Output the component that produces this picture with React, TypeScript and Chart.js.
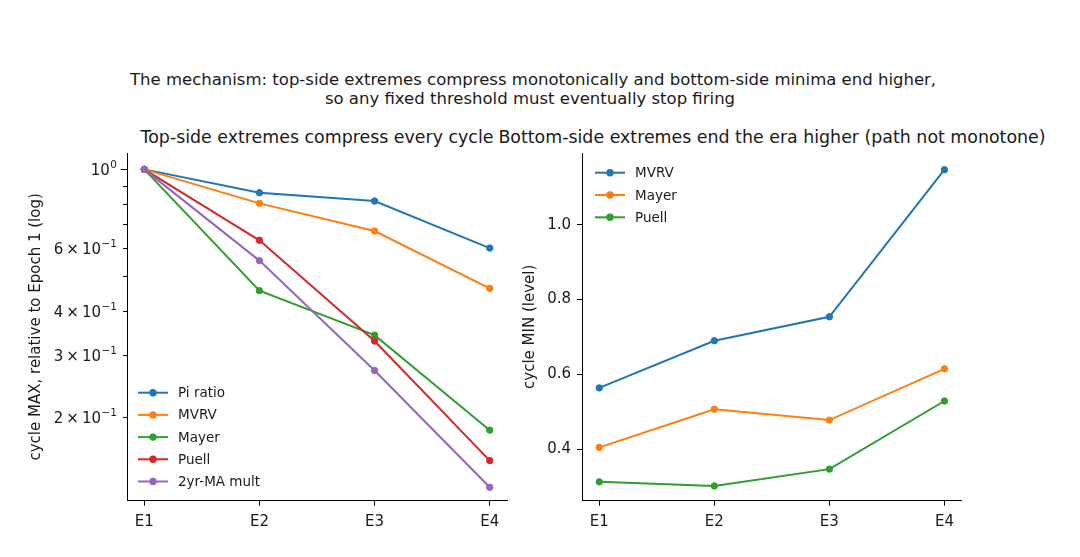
import { useEffect, useRef } from "react";
import { Chart, registerables, type ChartOptions, type Plugin } from "chart.js";

Chart.register(...registerables);

// epochs on the x axis
const epochs = ["E1", "E2", "E3", "E4"];

// left panel: cycle MAX relative to epoch 1 (log)
const piRatioMax = [1.0, 0.859, 0.814, 0.6];
const mvrvMax = [1.0, 0.802, 0.67, 0.462];
const mayerMax = [1.0, 0.455, 0.341, 0.184];
const puellMax = [1.0, 0.631, 0.328, 0.151];
const twoYrMaMax = [1.0, 0.553, 0.271, 0.127];

// right panel: cycle MIN level
const mvrvMin = [0.564, 0.69, 0.754, 1.147];
const mayerMin = [0.405, 0.507, 0.478, 0.615];
const puellMin = [0.313, 0.302, 0.347, 0.529];

// tick values / labels (log axis: mantissa + exponent, mathtext style)
const logTicks = [0.2, 0.3, 0.4, 0.5, 0.6, 0.7, 0.8, 0.9, 1.0];
const logMajor = [1.0];
const logTickLabels: Record<string, [string, string]> = {
  "1": ["10", "0"],
  "0.6": ["6\u2009\u00d7\u200910", "\u22121"],
  "0.4": ["4\u2009\u00d7\u200910", "\u22121"],
  "0.3": ["3\u2009\u00d7\u200910", "\u22121"],
  "0.2": ["2\u2009\u00d7\u200910", "\u22121"],
};
const levelTicks = [0.4, 0.6, 0.8, 1.0];

const BLUE = "#1f77b4";
const ORANGE = "#ff7f0e";
const GREEN = "#2ca02c";
const RED = "#d62728";
const PURPLE = "#9467bd";
const FONT = "'DejaVu Sans', sans-serif";
const INK = "#1a1a1a";
const AXIS_FS = 15;

type Series = { label: string; values: number[]; color: string };

const leftSeries: Series[] = [
  { label: "Pi ratio", values: piRatioMax, color: BLUE },
  { label: "MVRV", values: mvrvMax, color: ORANGE },
  { label: "Mayer", values: mayerMax, color: GREEN },
  { label: "Puell", values: puellMax, color: RED },
  { label: "2yr-MA mult", values: twoYrMaMax, color: PURPLE },
];

const rightSeries: Series[] = [
  { label: "MVRV", values: mvrvMin, color: BLUE },
  { label: "Mayer", values: mayerMin, color: ORANGE },
  { label: "Puell", values: puellMin, color: GREEN },
];

// matplotlib-ish legend drawn inside the plot area, no frame
const innerLegend: Plugin<"line"> = {
  id: "innerLegend",
  afterDatasetsDraw(chart, _args, opts: any) {
    const { ctx } = chart;
    ctx.save();
    ctx.font = `13.5px ${FONT}`;
    ctx.textBaseline = "middle";
    chart.data.datasets.forEach((ds: any, i) => {
      const y = opts.y + i * opts.gap;
      ctx.strokeStyle = ds.borderColor;
      ctx.lineWidth = 2;
      ctx.beginPath();
      ctx.moveTo(opts.x, y);
      ctx.lineTo(opts.x + 30, y);
      ctx.stroke();
      ctx.fillStyle = ds.borderColor;
      ctx.beginPath();
      ctx.arc(opts.x + 15, y, 3.7, 0, Math.PI * 2);
      ctx.fill();
      ctx.fillStyle = INK;
      ctx.fillText(ds.label, opts.x + 40, y + 1);
    });
    ctx.restore();
  },
};

// log-axis ticks: long major / short minor marks, and 6 × 10^-1 labels
const logAxisTicks: Plugin<"line"> = {
  id: "logAxisTicks",
  afterDraw(chart, _args, opts: any) {
    if (!opts || !opts.enabled) return;
    const { ctx } = chart;
    const ys = chart.scales.y;
    const x0 = ys.right;
    ctx.save();
    ctx.strokeStyle = "#000";
    ctx.lineWidth = 1;
    logTicks.forEach((v) => {
      const py = Math.round(ys.getPixelForValue(v)) + 0.5;
      const len = logMajor.includes(v) ? 6.5 : 4;
      ctx.beginPath();
      ctx.moveTo(x0 - len, py);
      ctx.lineTo(x0, py);
      ctx.stroke();
      const lab = logTickLabels[String(v)];
      if (!lab) return;
      const [base, exp] = lab;
      ctx.font = `10.5px ${FONT}`;
      const ew = ctx.measureText(exp).width;
      const right = x0 - 10;
      ctx.fillStyle = INK;
      ctx.textBaseline = "alphabetic";
      ctx.textAlign = "left";
      ctx.fillText(exp, right - ew, py - 1.2);
      ctx.font = `${AXIS_FS}px ${FONT}`;
      ctx.textAlign = "right";
      ctx.fillText(base, right - ew - 0.5, py + 5.5);
    });
    ctx.restore();
  },
};

function buildDatasets(series: Series[]) {
  return series.map((s, i) => ({
    label: s.label,
    data: s.values.map((v, k) => ({ x: k, y: v })),
    borderColor: s.color,
    backgroundColor: s.color,
    pointBackgroundColor: s.color,
    pointBorderColor: s.color,
    pointBorderWidth: 1,
    pointRadius: 3.2,
    borderWidth: 2,
    tension: 0,
    order: series.length - 1 - i,
  }));
}

function makeOptions(cfg: {
  yType: "linear" | "logarithmic";
  yMin: number;
  yMax: number;
  yTicks: number[];
  yLabel: (v: number) => string;
  yTitle: string;
  yWidth: number;
  yTitlePad: number;
  padRight: number;
  customLog: boolean;
  legend: { x: number; y: number; gap: number };
}): ChartOptions<"line"> {
  return {
    responsive: false,
    animation: false,
    layout: { padding: { top: 153, right: cfg.padRight, left: 0, bottom: 0 } },
    plugins: {
      legend: { display: false },
      tooltip: { enabled: false },
      innerLegend: cfg.legend,
      logAxisTicks: { enabled: cfg.customLog },
    } as any,
    scales: {
      x: {
        type: "linear",
        min: -0.15,
        max: 3.15,
        afterBuildTicks: (s) => {
          s.ticks = epochs.map((_, i) => ({ value: i }));
        },
        afterFit: (s) => {
          s.height = 56.3;
        },
        ticks: {
          callback: (v) => epochs[Number(v)] ?? "",
          color: INK,
          font: { family: FONT, size: AXIS_FS },
          padding: 7,
          autoSkip: false,
          maxRotation: 0,
        },
        grid: { drawOnChartArea: false, tickLength: 5, tickColor: "#000", tickWidth: 1 },
        border: { display: true, color: "#000", width: 1 },
      },
      y: {
        type: cfg.yType,
        min: cfg.yMin,
        max: cfg.yMax,
        afterBuildTicks: (s) => {
          s.ticks = cfg.yTicks.map((v) => ({ value: v }));
        },
        afterFit: (s) => {
          s.width = cfg.yWidth;
        },
        ticks: {
          display: !cfg.customLog,
          callback: (v) => cfg.yLabel(Number(v)),
          color: INK,
          font: { family: FONT, size: AXIS_FS },
          padding: 6,
          autoSkip: false,
        },
        title: {
          display: true,
          text: cfg.yTitle,
          color: INK,
          font: { family: FONT, size: AXIS_FS },
          padding: { top: cfg.yTitlePad, bottom: 0 },
        },
        grid: {
          display: !cfg.customLog,
          drawOnChartArea: false,
          tickLength: 5,
          tickColor: "#000",
          tickWidth: 1,
        },
        border: { display: true, color: "#000", width: 1 },
      },
    },
  };
}

function Panel(props: {
  left: number;
  width: number;
  series: Series[];
  options: ChartOptions<"line">;
}) {
  const canvasRef = useRef<HTMLCanvasElement>(null);

  useEffect(() => {
    const canvas = canvasRef.current;
    if (!canvas) return;
    const chart = new Chart(canvas, {
      type: "line",
      data: { datasets: buildDatasets(props.series) as any },
      options: props.options,
      plugins: [innerLegend, logAxisTicks],
    });
    return () => chart.destroy();
  }, []);

  return (
    <canvas
      ref={canvasRef}
      width={props.width}
      height={557}
      style={{ position: "absolute", left: props.left, top: 0, width: props.width, height: 557 }}
    />
  );
}

const leftOptions = makeOptions({
  yType: "logarithmic",
  yMin: 0.1164,
  yMax: 1.112,
  yTicks: logTicks,
  yLabel: () => "",
  yTitle: "cycle MAX, relative to Epoch 1 (log)",
  yWidth: 127,
  yTitlePad: 27,
  padRight: 33,
  customLog: true,
  legend: { x: 138, y: 392.7, gap: 22.2 },
});

const rightOptions = makeOptions({
  yType: "linear",
  yMin: 0.2626,
  yMax: 1.1917,
  yTicks: levelTicks,
  yLabel: (v) => v.toFixed(1),
  yTitle: "cycle MIN (level)",
  yWidth: 82,
  yTitlePad: 21,
  padRight: 118.3,
  customLog: false,
  legend: { x: 95, y: 172.7, gap: 22.3 },
});

const textBase: React.CSSProperties = {
  position: "absolute",
  fontFamily: FONT,
  color: INK,
  textAlign: "center",
  whiteSpace: "nowrap",
};

export default function App() {
  return (
    <div
      style={{
        position: "fixed",
        left: 0,
        top: 0,
        width: 1080,
        height: 557,
        background: "#fff",
        overflow: "hidden",
      }}
    >
      <div style={{ ...textBase, fontSize: 16.5, lineHeight: "18.5px", left: 130, width: 800, top: 71 }}>
        The mechanism: top-side extremes compress monotonically and bottom-side minima end higher,
        <br />
        so any fixed threshold must eventually stop firing
      </div>
      <div style={{ ...textBase, fontSize: 17.4, lineHeight: "20px", left: 17, width: 600, top: 127.3 }}>
        Top-side extremes compress every cycle
      </div>
      <div style={{ ...textBase, fontSize: 17.4, lineHeight: "20px", left: 472, width: 600, top: 127.3 }}>
        Bottom-side extremes end the era higher (path not monotone)
      </div>
      <Panel left={0} width={540} series={leftSeries} options={leftOptions} />
      <Panel left={500} width={580} series={rightSeries} options={rightOptions} />
    </div>
  );
}
